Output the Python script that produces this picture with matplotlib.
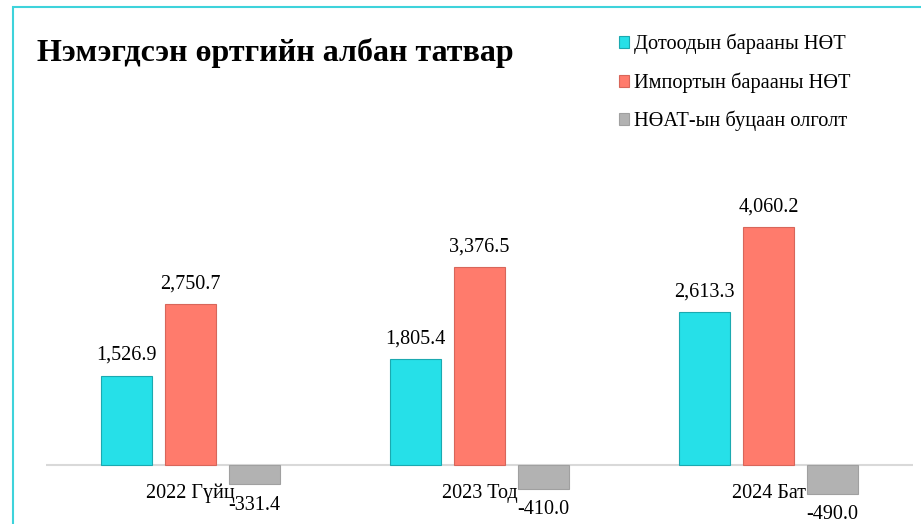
import matplotlib
matplotlib.use("Agg")
import matplotlib.pyplot as plt
from matplotlib.patches import Rectangle
import numpy as np

plt.rcParams['font.family'] = ['Liberation Serif', 'DejaVu Serif']

# Өгөгдөл
categories = ["2022 Гүйц", "2023 Тод", "2024 Бат"]
series_names = ["Дотоодын барааны НӨТ", "Импортын барааны НӨТ", "НӨАТ-ын буцаан олголт"]
dotood = [1526.9, 1805.4, 2613.3]
import_vals = [2750.7, 3376.5, 4060.2]
butsaan = [-331.4, -410.0, -490.0]

colors = ["#26E0E8", "#FF7B6C", "#B2B2B2"]
edges = ["#1BA9B0", "#D8665A", "#A0A0A0"]

fig = plt.figure(figsize=(9.21, 5.24), dpi=100)
ax = fig.add_axes([46 / 921, 0, 867 / 921, 1])

x = np.arange(len(categories))
w = 0.176
step = 0.221
all_series = [dotood, import_vals, butsaan]
bars = []
for i, vals in enumerate(all_series):
    b = ax.bar(x + (i - 1) * step, vals, w, color=colors[i], edgecolor=edges[i],
               linewidth=0.8, label=series_names[i], zorder=2)
    bars.append(b)
    for rect, v in zip(b, vals):
        cx = rect.get_x() + rect.get_width() / 2
        if v >= 0:
            ax.annotate(f"{v:,.1f}", (cx, v), xytext=(0, 14.5), textcoords="offset points",
                        ha="center", va="center", fontsize=14.5)
        else:
            ax.annotate(f"{v:,.1f}", (cx, v), xytext=(0, -15), textcoords="offset points",
                        ha="center", va="center", fontsize=14.5)

ax.axhline(0, color="#D9D9D9", lw=1.5, zorder=1)
ax.set_xlim(-0.5, 2.5)
ax.set_ylim(-1007, 7935)
ax.set_xticks(x)
ax.set_xticklabels(categories, fontsize=14.5)
ax.tick_params(axis="x", length=0, pad=-29)
ax.set_yticks([])
for s in ax.spines.values():
    s.set_visible(False)
ax.patch.set_alpha(0)
for lbl in ax.get_xticklabels():
    lbl.set_zorder(3)

fig.text(37 / 921, 1 - 53 / 524, "Нэмэгдсэн өртгийн албан татвар", fontsize=23,
         fontweight="bold", ha="left", va="center")

fig.legend(handles=bars, labels=series_names, loc="upper left",
           bbox_to_anchor=(619 / 921, 1 - 34 / 524), frameon=False, fontsize=14.7,
           handlelength=0.5, handleheight=0.5, handletextpad=0.25, labelspacing=0.88,
           borderaxespad=0, borderpad=0)

fig.patches.append(Rectangle((13 / 921, -0.1), 2, 1.1 - 7 / 524, transform=fig.transFigure,
                             fill=False, edgecolor="#3ED3DB", lw=1.5))

fig.savefig("out.png", dpi=100)
